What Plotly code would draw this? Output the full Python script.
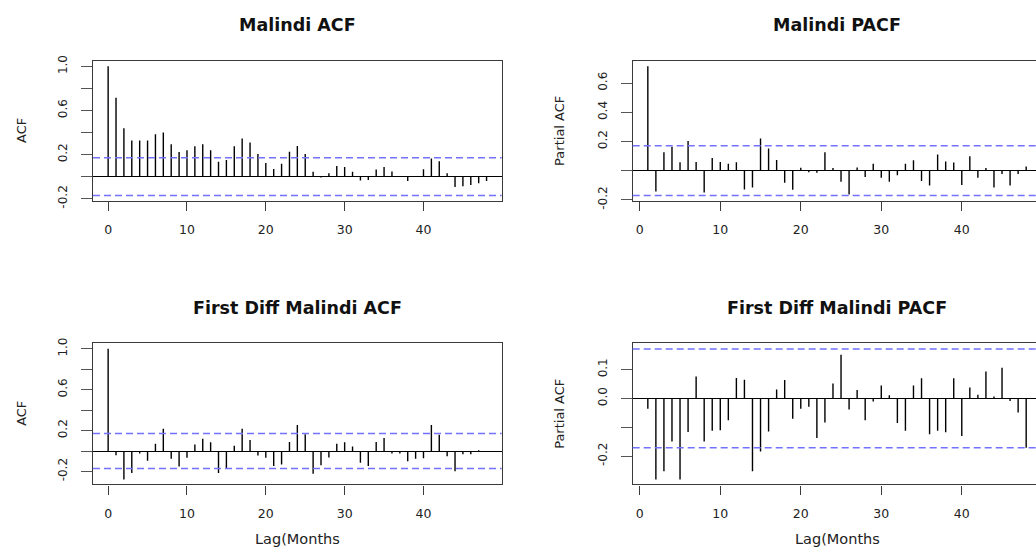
import plotly.graph_objects as go

# ---------------- data ----------------
lags_acf = list(range(0, 49))
lags_pacf = list(range(1, 49))

malindi_acf = [1.0, 0.715, 0.44, 0.328, 0.328, 0.328, 0.384, 0.40, 0.293, 0.223,
               0.24, 0.276, 0.293, 0.24, 0.135, 0.152, 0.276, 0.346, 0.31, 0.205,
               0.123, 0.07, 0.117, 0.226, 0.279, 0.205, 0.044, -0.008, 0.032, 0.097,
               0.088, 0.044, -0.035, -0.03, 0.065, 0.088, 0.047, 0.0, -0.04, 0.004,
               0.067, 0.164, 0.14, 0.03, -0.094, -0.088, -0.076, -0.059, -0.04]

malindi_pacf = [0.715, -0.142, 0.127, 0.164, 0.058, 0.204, 0.06, -0.149, 0.087, 0.06,
                0.047, 0.058, -0.129, -0.116, 0.22, 0.151, 0.073, -0.082, -0.131, 0.02,
                -0.01, -0.015, 0.127, 0.018, -0.076, -0.164, 0.022, -0.044, 0.047, -0.049,
                -0.076, -0.031, 0.047, 0.071, -0.071, -0.102, 0.111, 0.062, 0.056, -0.098,
                0.098, -0.049, 0.018, -0.116, -0.022, -0.102, -0.022, 0.029]

diff_acf = [1.0, -0.041, -0.279, -0.216, -0.025, -0.095, 0.07, 0.219, -0.076, -0.152,
            -0.067, 0.063, 0.121, 0.086, -0.216, -0.175, 0.051, 0.219, 0.108, -0.045,
            -0.067, -0.146, -0.133, 0.089, 0.254, 0.165, -0.222, -0.14, -0.063, 0.07,
            0.086, 0.044, -0.114, -0.146, 0.089, 0.127, -0.025, -0.025, -0.1, -0.076,
            -0.07, 0.254, 0.159, -0.051, -0.197, -0.032, -0.032, 0.008, -0.006]

diff_pacf = [-0.036, -0.281, -0.252, -0.149, -0.281, -0.116, 0.076, -0.149, -0.112, -0.11,
             -0.076, 0.071, 0.065, -0.252, -0.184, -0.115, 0.031, 0.064, -0.07, -0.036,
             -0.029, -0.137, -0.083, 0.052, 0.151, -0.038, 0.029, -0.076, -0.011, 0.045,
             0.011, -0.085, -0.112, 0.045, 0.07, -0.124, -0.112, -0.117, 0.07, -0.13,
             0.038, 0.013, 0.093, 0.007, 0.106, -0.009, -0.049, -0.171]

conf_orig = 0.1706   # 1.96 / sqrt(132)
conf_diff = 0.1712   # 1.96 / sqrt(131)

titles = ["Malindi ACF", "Malindi PACF", "First Diff Malindi ACF", "First Diff Malindi PACF"]
ylabels = ["ACF", "Partial ACF", "ACF", "Partial ACF"]
xlabel = "Lag(Months"

x_ticks = [0, 10, 20, 30, 40]
y_ticks = [
    ([-0.2, 0.0, 0.2, 0.4, 0.6, 0.8, 1.0], ["-0.2", "", "0.2", "", "0.6", "", "1.0"]),
    ([-0.2, 0.0, 0.2, 0.4, 0.6], ["-0.2", "", "0.2", "0.4", "0.6"]),
    ([-0.2, 0.0, 0.2, 0.4, 0.6, 0.8, 1.0], ["-0.2", "", "0.2", "", "0.6", "", "1.0"]),
    ([-0.2, -0.1, 0.0, 0.1], ["-0.2", "", "0.0", "0.1"]),
]

# ---------------- layout geometry ----------------
W, H = 1036, 555
FONT = "DejaVu Sans"

def px_x(p):
    return p / W

def px_y(p):
    return 1 - p / H

panels = [
    dict(x=(93, 501.7), y=(56.7, 200), xr=[-1.92, 49.92], yr=[-0.217, 1.047],
         lags=lags_acf, vals=malindi_acf, conf=conf_orig, right=False),
    dict(x=(632.7, 1036), y=(56.7, 200), xr=[-0.88, 49.22], yr=[-0.205, 0.75],
         lags=lags_pacf, vals=malindi_pacf, conf=conf_orig, right=True),
    dict(x=(93, 501.7), y=(346.7, 491.7), xr=[-1.92, 49.92], yr=[-0.327, 1.054],
         lags=lags_acf, vals=diff_acf, conf=conf_diff, right=False),
    dict(x=(632.7, 1036), y=(346.7, 491.7), xr=[-0.88, 49.22], yr=[-0.298, 0.191],
         lags=lags_pacf, vals=diff_pacf, conf=conf_diff, right=True),
]

fig = go.Figure()
layout = dict(width=W, height=H, margin=dict(l=0, r=0, t=0, b=0),
              paper_bgcolor="white", plot_bgcolor="white", showlegend=False)
shapes = []
annotations = []

for i, p in enumerate(panels):
    n = "" if i == 0 else str(i + 1)
    xs, ys = [], []
    for l, v in zip(p["lags"], p["vals"]):
        xs += [l, l, None]
        ys += [0, v, None]
    fig.add_trace(go.Scatter(x=xs, y=ys, mode="lines", xaxis="x" + n, yaxis="y" + n,
                             line=dict(color="black", width=1.4), hoverinfo="skip"))

    layout["xaxis" + n] = dict(
        domain=[px_x(p["x"][0]), px_x(p["x"][1])], range=p["xr"], anchor="y" + n,
        showgrid=False, zeroline=False, showline=True, mirror=True,
        linecolor="#3a3a3a", linewidth=1.3,
        tickmode="array", tickvals=x_ticks, ticktext=[str(t) for t in x_ticks],
        ticks="outside", ticklen=9, tickwidth=1.3, tickcolor="#3a3a3a",
        ticklabelstandoff=8,
        tickfont=dict(family=FONT, size=12.5, color="#222"))
    tv, tt = y_ticks[i]
    layout["yaxis" + n] = dict(
        domain=[px_y(p["y"][1]), px_y(p["y"][0])], range=p["yr"], anchor="x" + n,
        showgrid=False, zeroline=True, zerolinecolor="black", zerolinewidth=1.2,
        showline=True, mirror=not p["right"], linecolor="#3a3a3a", linewidth=1.3,
        tickmode="array", tickvals=tv, ticktext=tt,
        ticks="outside", ticklen=11, tickwidth=1.3, tickcolor="#555",
        tickangle=-90, ticklabelstandoff=9,
        tickfont=dict(family=FONT, size=12, color="#222"))

    for c in (p["conf"], -p["conf"]):
        shapes.append(dict(type="line", xref="x" + n + " domain", yref="y" + n,
                           x0=0, x1=1, y0=c, y1=c,
                           line=dict(color="#7272ff", width=1.5, dash="7px,4px")))

    right_edge = p["x"][1] if not p["right"] else 1041.4
    cx = (p["x"][0] + right_edge) / 2
    cy = (p["y"][0] + p["y"][1]) / 2
    title_y = 20 if i < 2 else 310.5
    annotations.append(dict(text=titles[i], xref="paper", yref="paper",
                            x=px_x(cx), y=px_y(title_y), showarrow=False,
                            xanchor="center", yanchor="middle",
                            font=dict(family=FONT, size=17.5, color="#111", weight="bold")))
    ylab_x = 22 if not p["right"] else 560
    annotations.append(dict(text=ylabels[i], xref="paper", yref="paper",
                            x=px_x(ylab_x), y=px_y(cy), showarrow=False, textangle=-90,
                            xanchor="center", yanchor="middle",
                            font=dict(family=FONT, size=13, color="#222")))
    if i >= 2:
        annotations.append(dict(text=xlabel, xref="paper", yref="paper",
                                x=px_x(cx), y=px_y(548), showarrow=False,
                                xanchor="center", yanchor="middle",
                                font=dict(family=FONT, size=14.5, color="#222")))

layout["shapes"] = shapes
layout["annotations"] = annotations
fig.update_layout(**layout)
fig.write_html("out.html")
